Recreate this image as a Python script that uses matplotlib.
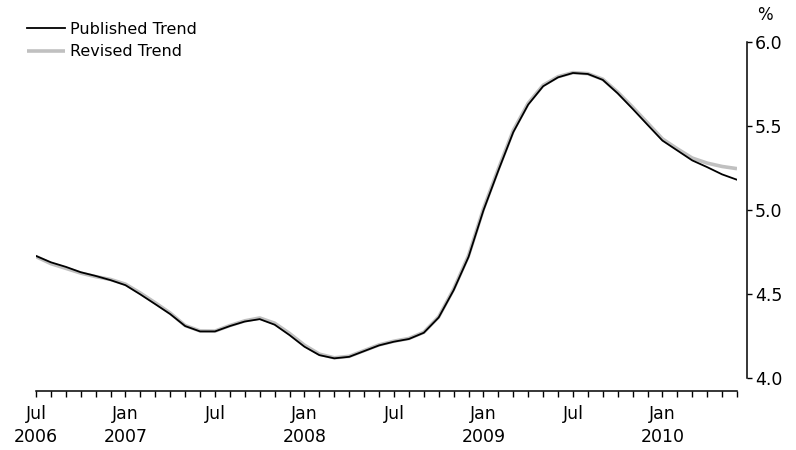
import numpy as np
import matplotlib
matplotlib.use("Agg")
import matplotlib.pyplot as plt

plt.rcParams['font.family'] = ['DejaVu Sans']

# monthly, Jul 2006 .. Jun 2010
months = ['Jul', 'Aug', 'Sep', 'Oct', 'Nov', 'Dec',
          'Jan', 'Feb', 'Mar', 'Apr', 'May', 'Jun']
start_year = 2006
n_months = 48

published = [4.726, 4.688, 4.661, 4.629, 4.607, 4.582,
             4.552, 4.497, 4.439, 4.380, 4.309, 4.277,
             4.277, 4.309, 4.336, 4.350, 4.317, 4.255,
             4.186, 4.136, 4.117, 4.126, 4.160, 4.194,
             4.216, 4.232, 4.269, 4.360, 4.522, 4.720,
             4.997, 5.234, 5.462, 5.626, 5.735, 5.788,
             5.814, 5.808, 5.773, 5.693, 5.601, 5.506,
             5.412, 5.353, 5.294, 5.254, 5.211, 5.179]

revised = [4.722, 4.680, 4.652, 4.624, 4.603, 4.586,
           4.558, 4.505, 4.447, 4.386, 4.312, 4.280,
           4.279, 4.312, 4.340, 4.357, 4.326, 4.265,
           4.195, 4.142, 4.120, 4.129, 4.163, 4.197,
           4.219, 4.235, 4.272, 4.364, 4.528, 4.728,
           5.006, 5.244, 5.472, 5.634, 5.741, 5.792,
           5.816, 5.810, 5.777, 5.700, 5.611, 5.517,
           5.422, 5.363, 5.308, 5.278, 5.258, 5.245]

x = np.arange(n_months)

tick_labels = []
for i in x:
    m = months[i % 12]
    year = start_year + (i + 6) // 12
    if i == 0 or m == 'Jan':
        tick_labels.append(m + '\n' + str(year))
    elif m == 'Jul':
        tick_labels.append(m)
    else:
        tick_labels.append('')

fig = plt.figure(figsize=(7.96, 4.5), dpi=100)
ax = fig.add_axes([36 / 796, 1 - 378 / 450, (737 - 36) / 796, (378 - 41.7) / 450])

ax.plot(x, revised, color='#c0c0c0', lw=2.6, label='Revised Trend', solid_capstyle='butt')
ax.plot(x, published, color='black', lw=1.3, label='Published Trend')

ax.set_xlim(0, n_months - 1)
ax.set_ylim(4.0, 6.0)

ax.spines['left'].set_visible(False)
ax.spines['top'].set_visible(False)
ax.spines['bottom'].set_position(('outward', 9.4))
ax.spines['right'].set_position(('outward', 7.2))
ax.spines['bottom'].set_linewidth(1.1)
ax.spines['right'].set_linewidth(1.1)

ax.set_xticks(x)
ax.set_xticklabels(tick_labels, fontsize=12.5, linespacing=1.35)
ax.tick_params(axis='x', direction='out', length=4.3, width=1.0, pad=6)

ax.yaxis.tick_right()
ax.set_yticks([4.0, 4.5, 5.0, 5.5, 6.0])
ax.set_yticklabels(['4.0', '4.5', '5.0', '5.5', '6.0'], fontsize=12.5)
ax.tick_params(axis='y', direction='out', length=3.6, width=1.0, pad=2)

fig.text(765 / 796, 1 - 15 / 450, '%', fontsize=12, ha='center', va='center')

handles, labels = ax.get_legend_handles_labels()
leg = fig.legend(handles[::-1], labels[::-1], loc='upper left',
                 bbox_to_anchor=(27 / 796, 1 - 22 / 450), frameon=False,
                 fontsize=11.5, handlelength=2.4, handletextpad=0.3,
                 labelspacing=0.45, borderaxespad=0, borderpad=0)

fig.savefig('out.png', dpi=100)
